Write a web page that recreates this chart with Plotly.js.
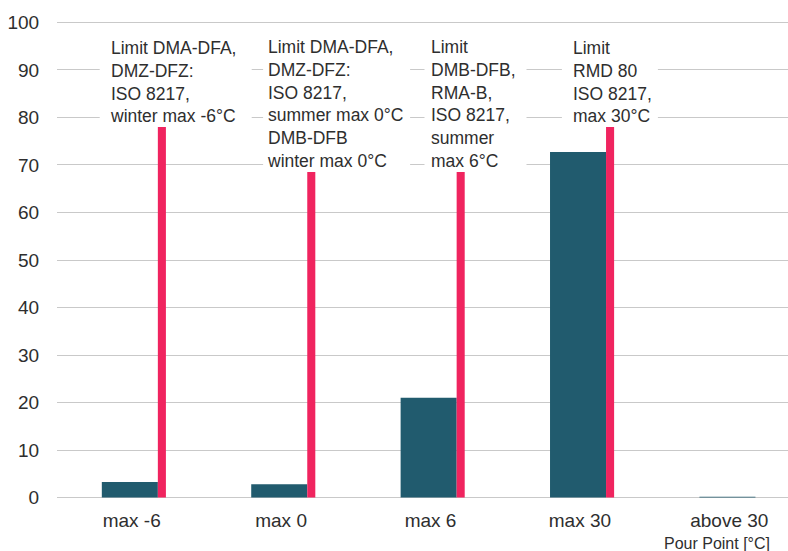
<!DOCTYPE html>
<html>
<head>
<meta charset="utf-8">
<script src="https://cdn.plot.ly/plotly-3.0.1.min.js"></script>
<style>
  html, body { margin: 0; padding: 0; background: #fff; overflow: hidden; }
  #chart { width: 827px; height: 551px; }
</style>
</head>
<body>
<div id="chart"></div>
<script>
// Pour point classes
const categories = ['max -6', 'max 0', 'max 6', 'max 30', 'above 30'];

// Share of samples per pour point class
const shareValues = [3.3, 2.8, 21.0, 72.7, 0.2];

// Marker bars that carry the specification limit notes
const limitValues = [78, 68.5, 68.5, 78, null];

// Specification limit notes, one per marker bar
const limitNotes = [
  'Limit DMA-DFA,<br>DMZ-DFZ:<br>ISO 8217,<br>winter max -6°C',
  'Limit DMA-DFA,<br>DMZ-DFZ:<br>ISO 8217,<br>summer max 0°C<br>DMB-DFB<br>winter max 0°C',
  'Limit<br>DMB-DFB,<br>RMA-B,<br>ISO 8217,<br>summer<br>max 6°C',
  'Limit<br>RMD 80<br>ISO 8217,<br>max 30°C'
];

const yTicks = [0, 10, 20, 30, 40, 50, 60, 70, 80, 90, 100];
const axisTitle = 'Pour Point [°C]';

// ---- styling ----
const FONT = '"Liberation Sans", Arial, Helvetica, sans-serif';
const TEXT = '#2e2e2e';
const TEAL = '#215b6e';
const PINK = '#f0245f';
const GRID = '#c9c9c9';

// note placement (pixels relative to category centre / marker top)
const noteLayout = [
  { textShift: -23, boxLeft: -32, boxRight: 120, boxTop: 99 },
  { textShift: -15, boxLeft: -18, boxRight: 129, boxTop: 144 },
  { textShift: -1,  boxLeft: -6,  boxRight: 96,  boxTop: 144 },
  { textShift: -8,  boxLeft: -18, boxRight: 78,  boxTop: 99 }
];

const traces = [
  {
    type: 'bar',
    x: categories,
    y: shareValues,
    marker: { color: TEAL },
    width: 0.375,
    offset: -0.2,
    hoverinfo: 'x+y',
    showlegend: false
  },
  {
    type: 'bar',
    x: categories,
    y: limitValues,
    marker: { color: PINK },
    width: 0.054,
    offset: 0.175,
    hoverinfo: 'x+y',
    showlegend: false
  }
];

const shapes = [];
const annotations = [];
limitNotes.forEach((note, i) => {
  const p = noteLayout[i];
  // white panel behind the note, sitting between gridlines and bars
  shapes.push({
    type: 'rect',
    layer: 'between',
    xref: 'x', yref: 'y',
    xsizemode: 'pixel', ysizemode: 'pixel',
    xanchor: i, yanchor: limitValues[i],
    x0: p.boxLeft, x1: p.boxRight,
    y0: 1, y1: p.boxTop,
    fillcolor: '#ffffff',
    line: { width: 0 }
  });
  annotations.push({
    xref: 'x', yref: 'y',
    x: categories[i], y: limitValues[i],
    xanchor: 'left', yanchor: 'bottom',
    xshift: p.textShift, yshift: 0,
    align: 'left',
    showarrow: false,
    borderpad: 0,
    text: note,
    font: { family: FONT, size: 17.5, color: TEXT }
  });
});

annotations.push({
  xref: 'paper', yref: 'paper',
  x: 0.957, y: -0.09,
  xanchor: 'right', yanchor: 'middle',
  showarrow: false,
  text: axisTitle,
  font: { family: FONT, size: 16, color: TEXT }
});

const layout = {
  width: 827,
  height: 551,
  margin: { l: 57, r: 23, t: 20, b: 51, pad: 0 },
  paper_bgcolor: '#ffffff',
  plot_bgcolor: '#ffffff',
  font: { family: FONT, color: TEXT },
  barmode: 'overlay',
  xaxis: {
    type: 'category',
    range: [-0.5, 4.5],
    showgrid: false,
    zeroline: false,
    showline: false,
    ticks: 'outside',
    ticklen: 3,
    tickcolor: 'rgba(0,0,0,0)',
    tickfont: { family: FONT, size: 19, color: TEXT }
  },
  yaxis: {
    range: [-0.5, 100.5],
    tickvals: yTicks,
    ticktext: yTicks.map(String),
    showgrid: true,
    gridcolor: GRID,
    gridwidth: 1,
    zeroline: false,
    showline: false,
    ticks: 'outside',
    ticklen: 13,
    tickcolor: 'rgba(0,0,0,0)',
    tickfont: { family: FONT, size: 19, color: TEXT }
  },
  shapes: shapes,
  annotations: annotations,
  showlegend: false
};

Plotly.newPlot('chart', traces, layout, { staticPlot: true, displayModeBar: false });
</script>
</body>
</html>
